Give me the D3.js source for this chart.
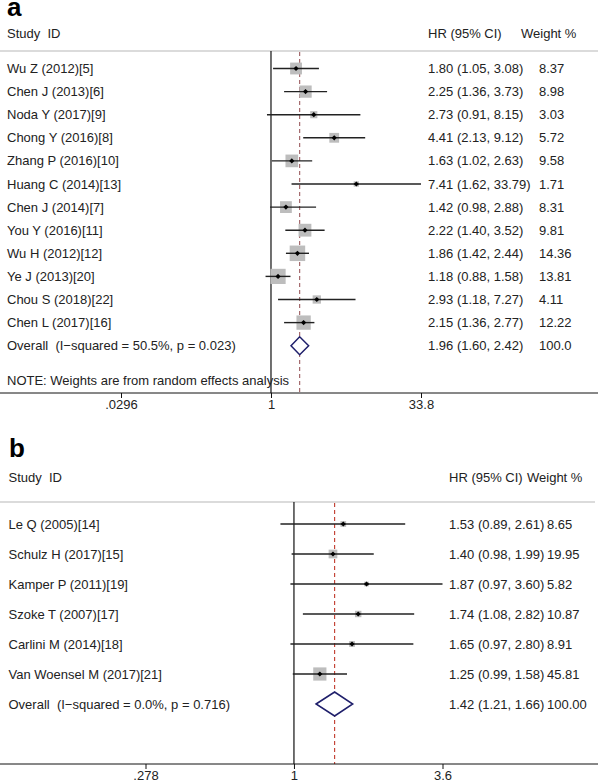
<!DOCTYPE html>
<html>
<head>
<meta charset="utf-8">
<script src="https://cdn.jsdelivr.net/npm/d3@7"></script>
<style>
  html, body { margin: 0; padding: 0; background: #fff; }
  svg { display: block; }
  text { font-family: "Liberation Sans", Arial, Helvetica, sans-serif; fill: #222; white-space: pre; }
</style>
</head>
<body>
<svg id="chart" width="598" height="782"></svg>
<script>
// ---------- Panel a data ----------
const studiesA = ["Wu Z (2012)[5]", "Chen J (2013)[6]", "Noda Y (2017)[9]", "Chong Y (2016)[8]",
  "Zhang P (2016)[10]", "Huang C (2014)[13]", "Chen J (2014)[7]", "You Y (2016)[11]",
  "Wu H (2012)[12]", "Ye J (2013)[20]", "Chou S (2018)[22]", "Chen L (2017)[16]"];
const hrA     = [1.80, 2.25, 2.73, 4.41, 1.63, 7.41, 1.42, 2.22, 1.86, 1.18, 2.93, 2.15];
const lowA    = [1.05, 1.36, 0.91, 2.13, 1.02, 1.62, 0.98, 1.40, 1.42, 0.88, 1.18, 1.36];
const highA   = [3.08, 3.73, 8.15, 9.12, 2.63, 33.79, 2.88, 3.52, 2.44, 1.58, 7.27, 2.77];
const weightA = ["8.37", "8.98", "3.03", "5.72", "9.58", "1.71", "8.31", "9.81", "14.36", "13.81", "4.11", "12.22"];
const overallA = ["Overall  (I\u2212squared = 50.5%, p = 0.023)", 1.96, 1.60, 2.42, "100.0"];
const ticksA = [0.0296, 1, 33.8];
const tickLabelsA = [".0296", "1", "33.8"];
const noteA = "NOTE: Weights are from random effects analysis";

// ---------- Panel b data ----------
const studiesB = ["Le Q (2005)[14]", "Schulz H (2017)[15]", "Kamper P (2011)[19]", "Szoke T (2007)[17]",
  "Carlini M (2014)[18]", "Van Woensel M (2017)[21]"];
const hrB     = [1.53, 1.40, 1.87, 1.74, 1.65, 1.25];
const lowB    = [0.89, 0.98, 0.97, 1.08, 0.97, 0.99];
const highB   = [2.61, 1.99, 3.60, 2.82, 2.80, 1.58];
const weightB = ["8.65", "19.95", "5.82", "10.87", "8.91", "45.81"];
const overallB = ["Overall  (I\u2212squared = 0.0%, p = 0.716)", 1.42, 1.21, 1.66, "100.00"];
const ticksB = [0.278, 1, 3.6];
const tickLabelsB = [".278", "1", "3.6"];

const svg = d3.select("#chart");
const fmt = d3.format(".2f");
const ciText = (h, l, u) => `${fmt(h)} (${fmt(l)}, ${fmt(u)})`;

function panel(cfg) {
  const g = svg.append("g");
  const n = cfg.studies.length;
  const x = d3.scaleLog().domain(cfg.domain).range(cfg.range);
  const y = d3.scaleLinear().domain([0, n]).range(cfg.yRange);
  const box = d3.scaleSqrt().domain([0, d3.max(cfg.weights, d => +d)]).range([0, cfg.boxMax]);

  // panel letter
  g.append("text").attr("x", cfg.letterX).attr("y", cfg.letterY)
    .style("font-size", "26px").style("font-weight", "bold").style("fill", "#000").text(cfg.letter);

  // header
  g.append("text").attr("x", cfg.textX).attr("y", cfg.headerY).attr("dy", "0.35em")
    .style("font-size", "13px").text("Study  ID");
  g.append("text").attr("x", cfg.hrX).attr("y", cfg.headerY).attr("dy", "0.35em")
    .style("font-size", "13px").text("HR (95% CI)");
  g.append("text").attr("x", cfg.weightHeadX).attr("y", cfg.headerY).attr("dy", "0.35em")
    .style("font-size", "13px").text("Weight %");
  g.append("line").attr("x1", 0).attr("x2", cfg.headLineEnd)
    .attr("y1", cfg.headLineY).attr("y2", cfg.headLineY)
    .attr("stroke", "#cfcfcf").attr("stroke-width", 1.5);

  // null line
  g.append("line").attr("x1", x(1)).attr("x2", x(1))
    .attr("y1", cfg.headLineY).attr("y2", cfg.axisY)
    .attr("stroke", "#111").attr("stroke-width", 1.2);

  // overall dashed line
  g.append("line").attr("x1", x(cfg.overall[1])).attr("x2", x(cfg.overall[1]))
    .attr("y1", cfg.headLineY + 1).attr("y2", cfg.axisY)
    .attr("stroke", cfg.dashColor).attr("stroke-width", 1.1).attr("stroke-dasharray", "4,3");

  const idx = d3.range(n);
  // boxes
  g.selectAll(".box").data(idx).join("rect")
    .attr("x", i => x(cfg.hr[i]) - box(+cfg.weights[i]) / 2)
    .attr("y", i => y(i) - box(+cfg.weights[i]) / 2)
    .attr("width", i => box(+cfg.weights[i]))
    .attr("height", i => box(+cfg.weights[i]))
    .attr("fill", "#bdbdbd");
  // CI lines
  g.selectAll(".ci").data(idx).join("line")
    .attr("x1", i => x(cfg.low[i])).attr("x2", i => x(cfg.high[i]))
    .attr("y1", i => y(i)).attr("y2", i => y(i))
    .attr("stroke", "#222").attr("stroke-width", 1.4);
  // points
  g.selectAll(".pt").data(idx).join("path")
    .attr("d", i => {
      const cx = x(cfg.hr[i]), cy = y(i), r = 2.6;
      return `M${cx},${cy - r}L${cx + r},${cy}L${cx},${cy + r}L${cx - r},${cy}Z`;
    })
    .attr("fill", "#000");

  // overall diamond
  const o = cfg.overall, oy = y(n);
  g.append("path")
    .attr("d", `M${x(o[2])},${oy}L${x(o[1])},${oy - cfg.diaH}L${x(o[3])},${oy}L${x(o[1])},${oy + cfg.diaH}Z`)
    .attr("fill", "#fff").attr("stroke", "#1f1f6b").attr("stroke-width", 1.5);

  // row texts
  const labels = cfg.studies.concat([o[0]]);
  const hrs = idx.map(i => ciText(cfg.hr[i], cfg.low[i], cfg.high[i])).concat([ciText(o[1], o[2], o[3])]);
  const ws = cfg.weights.concat([o[4]]);
  const rows = d3.range(n + 1);
  g.selectAll(".lab").data(rows).join("text")
    .attr("x", cfg.textX).attr("y", i => y(i)).attr("dy", "0.35em")
    .style("font-size", "13px").text(i => labels[i]);
  g.selectAll(".hr").data(rows).join("text")
    .attr("x", cfg.hrX).attr("y", i => y(i)).attr("dy", "0.35em")
    .style("font-size", "13px").text(i => hrs[i]);
  g.selectAll(".w").data(rows).join("text")
    .attr("x", cfg.weightX).attr("y", i => y(i)).attr("dy", "0.35em")
    .style("font-size", "13px").text(i => ws[i]);

  if (cfg.note) {
    g.append("text").attr("x", cfg.textX).attr("y", cfg.noteY).attr("dy", "0.35em")
      .style("font-size", "13px").text(cfg.note);
  }

  // axis
  g.append("line").attr("x1", 0).attr("x2", 598).attr("y1", cfg.axisY).attr("y2", cfg.axisY)
    .attr("stroke", "#111").attr("stroke-width", 1);
  const axis = d3.axisBottom(x).tickValues(cfg.ticks)
    .tickFormat((d, i) => cfg.tickLabels[i]).tickSize(5).tickPadding(2);
  const ag = g.append("g").attr("transform", `translate(0,${cfg.axisY})`).call(axis);
  ag.select(".domain").remove();
  ag.selectAll(".tick line").attr("stroke", "#111");
  ag.selectAll(".tick text").style("font-size", "13px")
    .style("font-family", "'Liberation Sans', Arial, sans-serif").attr("fill", "#222");
}

panel({
  letter: "a", letterX: 7, letterY: 16,
  studies: studiesA, hr: hrA, low: lowA, high: highA, weights: weightA, overall: overallA,
  ticks: ticksA, tickLabels: tickLabelsA, note: noteA,
  domain: [0.0296, 33.8], range: [121, 421],
  yRange: [68.5, 345.7], boxMax: 15.5, diaH: 9,
  headerY: 33, headLineY: 51, headLineEnd: 598, axisY: 393, noteY: 380,
  textX: 7, hrX: 428, weightX: 539, weightHeadX: 521,
  dashColor: "#9a5a5e"
});

panel({
  letter: "b", letterX: 9, letterY: 457,
  studies: studiesB, hr: hrB, low: lowB, high: highB, weights: weightB, overall: overallB,
  ticks: ticksB, tickLabels: tickLabelsB, note: null,
  domain: [0.278, 3.6], range: [145.5, 442.5],
  yRange: [524, 704], boxMax: 13.2, diaH: 12,
  headerY: 477, headLineY: 502, headLineEnd: 595, axisY: 764,
  textX: 8.5, hrX: 449, weightX: 547, weightHeadX: 527,
  dashColor: "#c0392b"
});
</script>
</body>
</html>
